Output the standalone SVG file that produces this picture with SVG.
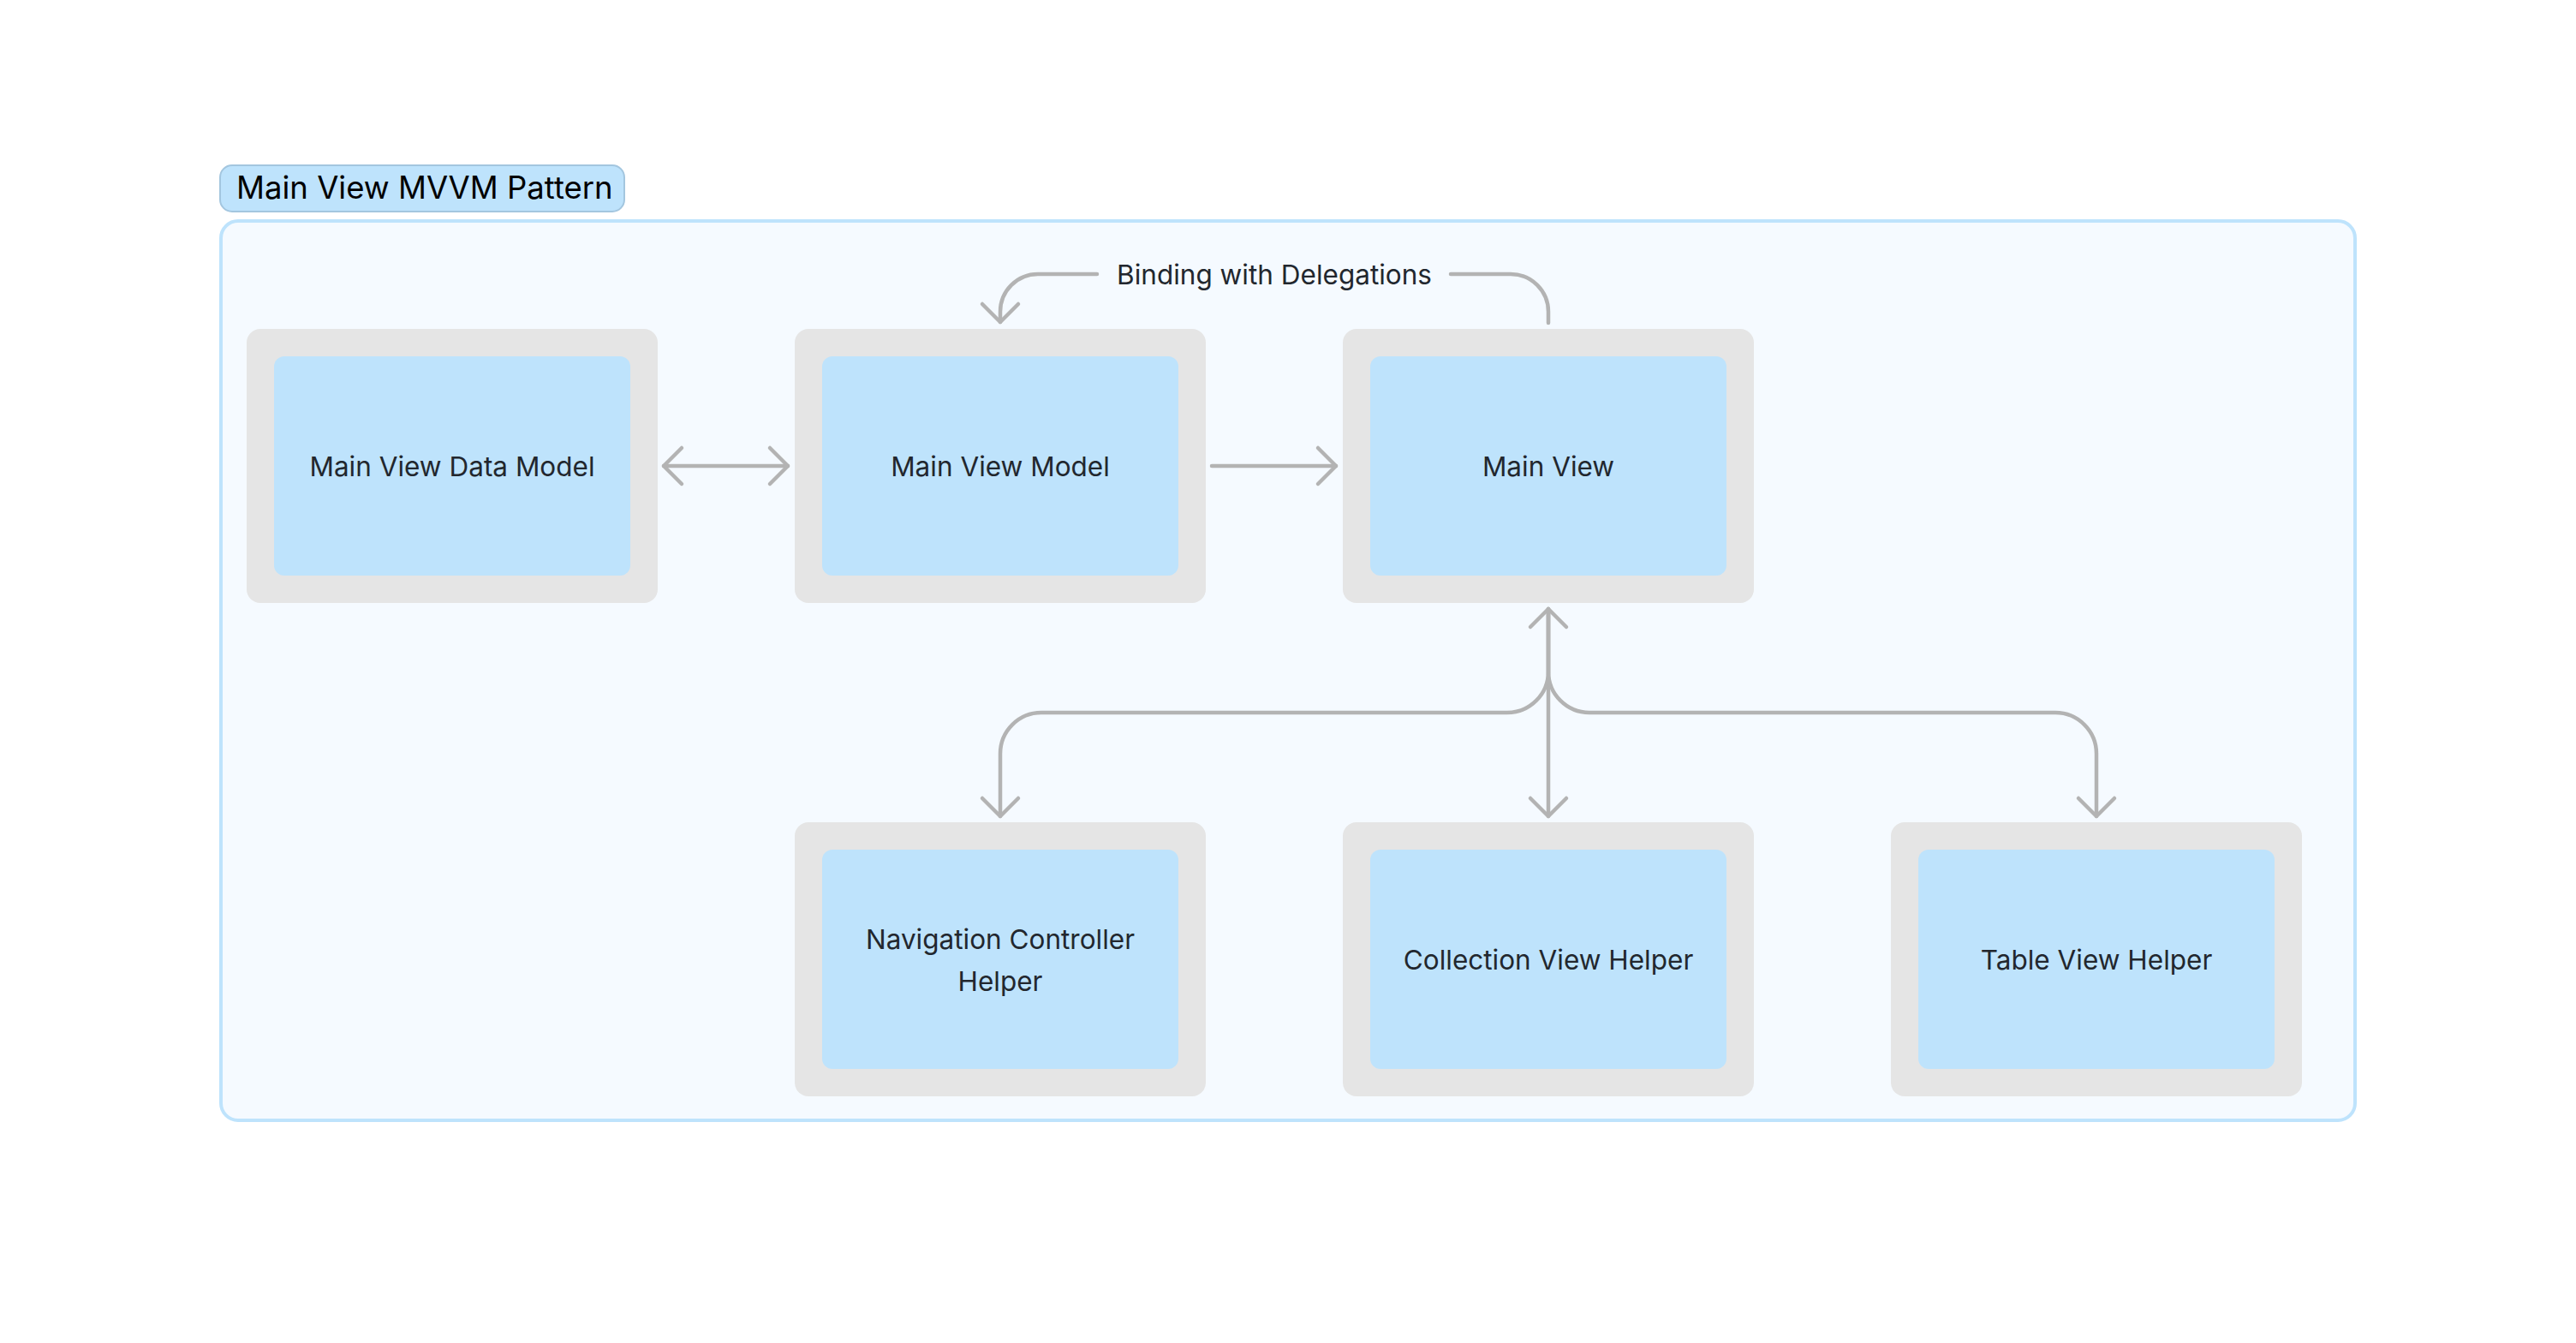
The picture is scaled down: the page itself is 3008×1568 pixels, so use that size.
<svg xmlns="http://www.w3.org/2000/svg" width="3008" height="1568" viewBox="0 0 3008 1568">
<style>
.node-outer{fill:#e5e5e5}
.node-inner{fill:#bee3fc}
.ntext{font-family:Inter,"Noto Sans","Liberation Sans",sans-serif;font-size:31.5px;fill:#22272e;text-anchor:middle}
.conn{fill:none;stroke:#b3b3b3;stroke-width:4.5;stroke-linecap:round;stroke-linejoin:round}
</style>
<defs>
<marker id="arr" viewBox="-26 -26 30 52" refX="0" refY="0" markerWidth="30" markerHeight="52" markerUnits="userSpaceOnUse" orient="auto-start-reverse">
<path d="M-21,-21 L0,0 L-21,21" fill="none" stroke="#b3b3b3" stroke-width="4.5" stroke-linecap="round" stroke-linejoin="round"/>
</marker>
</defs>
<rect x="0" y="0" width="3008" height="1568" fill="#ffffff"/>
<g id="group-container">
<rect x="258" y="258" width="2492" height="1050" rx="20" fill="#f5faff" stroke="#bee3fc" stroke-width="4"/>
<rect x="257" y="193" width="472" height="54" rx="14" fill="#bee3fc" stroke="#a3c6df" stroke-width="2"/>
<text x="276" y="232" style="font-family:Inter,'Noto Sans','Liberation Sans',sans-serif;font-size:36.5px;fill:#000000">Main View MVVM Pattern</text>
</g>
<g id="node-data-model">
<rect class="node-outer" x="288" y="384" width="480" height="320" rx="16"/>
<rect class="node-inner" x="320" y="416" width="416" height="256" rx="12"/>
<text class="ntext" x="528" y="555.5">Main View Data Model</text>
</g>
<g id="node-view-model">
<rect class="node-outer" x="928" y="384" width="480" height="320" rx="16"/>
<rect class="node-inner" x="960" y="416" width="416" height="256" rx="12"/>
<text class="ntext" x="1168" y="555.5">Main View Model</text>
</g>
<g id="node-main-view">
<rect class="node-outer" x="1568" y="384" width="480" height="320" rx="16"/>
<rect class="node-inner" x="1600" y="416" width="416" height="256" rx="12"/>
<text class="ntext" x="1808" y="555.5">Main View</text>
</g>
<g id="node-navigation">
<rect class="node-outer" x="928" y="960" width="480" height="320" rx="16"/>
<rect class="node-inner" x="960" y="992" width="416" height="256" rx="12"/>
<text class="ntext" x="1168" y="1108">Navigation Controller</text>
<text class="ntext" x="1168" y="1156.5">Helper</text>
</g>
<g id="node-collection">
<rect class="node-outer" x="1568" y="960" width="480" height="320" rx="16"/>
<rect class="node-inner" x="1600" y="992" width="416" height="256" rx="12"/>
<text class="ntext" x="1808" y="1131.5">Collection View Helper</text>
</g>
<g id="node-table">
<rect class="node-outer" x="2208" y="960" width="480" height="320" rx="16"/>
<rect class="node-inner" x="2240" y="992" width="416" height="256" rx="12"/>
<text class="ntext" x="2448" y="1131.5">Table View Helper</text>
</g>
<g id="connectors">
<path class="conn" d="M775,544 H920" marker-start="url(#arr)" marker-end="url(#arr)"/>
<path class="conn" d="M1415,544 H1560" marker-end="url(#arr)"/>
<path class="conn" d="M1281,320 H1212 A44,44 0 0 0 1168,364 V376" marker-end="url(#arr)"/>
<path class="conn" d="M1694,320 H1764 A44,44 0 0 1 1808,364 V377"/>
<text x="1488" y="331.5" style="font-family:Inter,'Noto Sans','Liberation Sans',sans-serif;font-size:31.5px;fill:#22272e;text-anchor:middle">Binding with Delegations</text>
<path class="conn" d="M1808,711 V953" marker-start="url(#arr)" marker-end="url(#arr)"/>
<path class="conn" d="M1808,711 V784 A48,48 0 0 1 1760,832 H1216 A48,48 0 0 0 1168,880 V953" marker-end="url(#arr)"/>
<path class="conn" d="M1808,711 V784 A48,48 0 0 0 1856,832 H2400 A48,48 0 0 1 2448,880 V953" marker-end="url(#arr)"/>
</g>
</svg>
